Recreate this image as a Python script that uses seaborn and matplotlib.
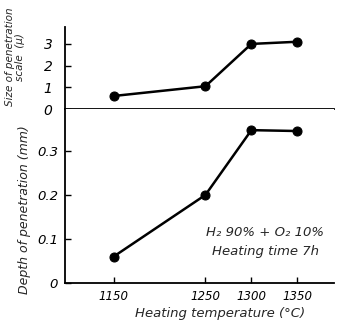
import matplotlib
matplotlib.use("Agg")
import matplotlib.pyplot as plt
import seaborn as sns
import pandas as pd

temperature = [1150, 1250, 1300, 1350]
scale_size = [0.6, 1.05, 3.0, 3.1]
penetration_depth = [0.06, 0.20, 0.347, 0.345]
x_ticks = [1150, 1250, 1300, 1350]
top_yticks = [0, 1, 2, 3]
bottom_yticks = [0, 0.1, 0.2, 0.3]
bottom_yticklabels = ["0", "0.1", "0.2", "0.3"]

sns.set_style("ticks")
plt.rcParams["font.family"] = ["DejaVu Sans"]
plt.rcParams["font.style"] = "italic"

df = pd.DataFrame({"temp": temperature, "scale": scale_size, "depth": penetration_depth})

W, H = 341, 326
fig = plt.figure(figsize=(W / 100, H / 100), dpi=100)
L, R = 65, 334
ax_top = fig.add_axes([L / W, 1 - 109 / H, (R - L) / W, (109 - 27) / H])
ax_bot = fig.add_axes([L / W, 1 - 283 / H, (R - L) / W, (283 - 109) / H])

xlim = (1097, 1390)
for ax in (ax_top, ax_bot):
    ax.set_xlim(*xlim)
    for s in ("top", "right"):
        ax.spines[s].set_visible(False)
    for s in ("left", "bottom"):
        ax.spines[s].set_linewidth(1.3)
        ax.spines[s].set_color("black")
    ax.tick_params(direction="in", length=4, width=1.0, colors="black", labelsize=9, pad=5)
    ax.set_facecolor("white")

sns.lineplot(data=df, x="temp", y="scale", ax=ax_top, color="black", linewidth=1.8,
             marker="o", markersize=6.5, markeredgecolor="black")
sns.lineplot(data=df, x="temp", y="depth", ax=ax_bot, color="black", linewidth=1.8,
             marker="o", markersize=6.5, markeredgecolor="black")

ax_top.set_ylim(0, 3.78)
ax_top.set_yticks(top_yticks)
ax_top.set_yticklabels([str(v) for v in top_yticks], fontsize=10)
ax_top.tick_params(axis="y", pad=9)
ax_top.set_xticks([])
ax_top.set_xlabel("")
ax_top.set_ylabel("")

ax_bot.set_ylim(0, 0.395)
ax_bot.set_yticks(bottom_yticks)
ax_bot.set_yticklabels(bottom_yticklabels, fontsize=9.5)
ax_bot.set_xticks(x_ticks)
ax_bot.set_xticklabels([str(v) for v in x_ticks], fontsize=8.5)
ax_bot.set_xlabel("")
ax_bot.set_ylabel("")

fig.text(15 / W, 1 - 57 / H, "Size of penetration\nscale  (μ)", rotation=90,
         ha="center", va="center", fontsize=7.5, style="italic", linespacing=1.1)
fig.text(25 / W, 1 - 210 / H, "Depth of penetration (mm)", rotation=90,
         ha="center", va="center", fontsize=9, style="italic")
fig.text(220 / W, 1 - 313 / H, "Heating temperature (°C)",
         ha="center", va="center", fontsize=9.5, style="italic")
fig.text(265 / W, 1 - 232 / H, "H₂ 90% + O₂ 10%",
         ha="center", va="center", fontsize=9.5, style="italic")
fig.text(265 / W, 1 - 251 / H, "Heating time 7h",
         ha="center", va="center", fontsize=9.5, style="italic")

fig.savefig("out.png", dpi=100, facecolor="white")
